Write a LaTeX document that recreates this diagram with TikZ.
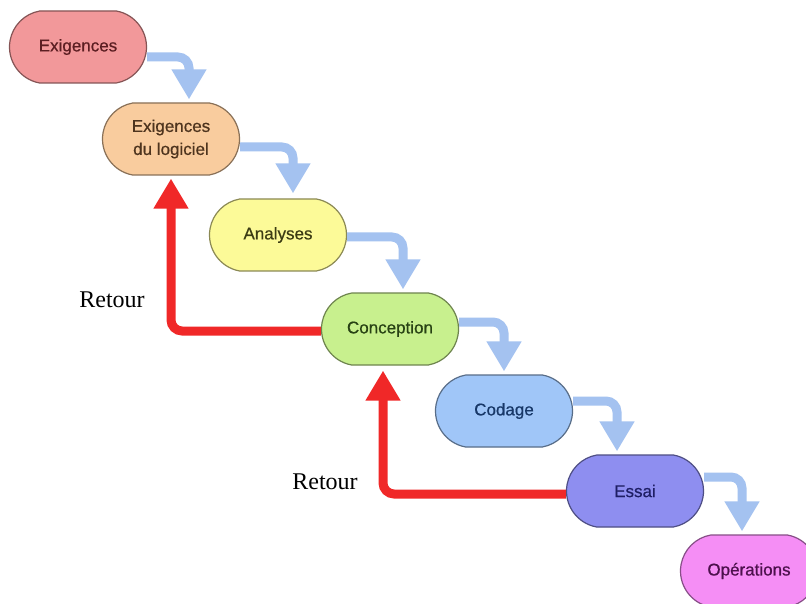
\documentclass[tikz,border=0pt]{standalone}
\usepackage{fontspec}
\setmainfont{Liberation Sans}
\newfontfamily\stagefont[FakeBold=0.6]{Liberation Sans}
\newfontfamily\retourfont{Liberation Serif}
\usetikzlibrary{arrows.meta,shapes.misc}

% stage fills, borders and text colours
\definecolor{cExig}{RGB}{242,152,154}
\definecolor{tExig}{RGB}{92,30,34}
\definecolor{cLog}{RGB}{249,204,158}
\definecolor{tLog}{RGB}{78,52,30}
\definecolor{cAna}{RGB}{252,250,152}
\definecolor{tAna}{RGB}{60,60,20}
\definecolor{cCon}{RGB}{200,240,142}
\definecolor{tCon}{RGB}{40,66,20}
\definecolor{cCod}{RGB}{160,198,248}
\definecolor{tCod}{RGB}{24,56,104}
\definecolor{cEss}{RGB}{142,142,240}
\definecolor{tEss}{RGB}{30,30,100}
\definecolor{cOpe}{RGB}{245,142,245}
\definecolor{tOpe}{RGB}{76,16,76}
\definecolor{flowblue}{RGB}{164,194,240}
\definecolor{backred}{RGB}{240,40,40}

\tikzset{
  stage/.style={rounded rectangle, rounded rectangle arc length=160,
    draw=#1!55!black, fill=#1, line width=1.2pt,
    minimum width=137pt, minimum height=72pt,
    align=center, font=\stagefont\fontsize{17}{23}\selectfont, inner sep=0pt},
  flow/.style={draw=flowblue, line width=9pt, rounded corners=11pt,
    -{Triangle[width=33pt,length=30pt]}},
  back/.style={draw=backred, line width=9pt, rounded corners=11pt,
    -{Triangle[width=33pt,length=30pt]}},
  retour/.style={font=\retourfont\fontsize{24}{28}\selectfont, inner sep=0pt}
}

\begin{document}
\begin{tikzpicture}[x=1pt,y=-1pt]
  \clip (0,0) rectangle (806,604);
  \fill[white] (0,0) rectangle (806,604);

  % stages of the cascade
  \node[stage=cExig, text=tExig] (exig) at (78,47) {Exigences};
  \node[stage=cLog,  text=tLog]  (log)  at (171,139) {Exigences\\du logiciel};
  \node[stage=cAna,  text=tAna]  (ana)  at (278,235) {Analyses};
  \node[stage=cCon,  text=tCon]  (con)  at (390,329) {Conception};
  \node[stage=cCod,  text=tCod]  (cod)  at (504,411) {Codage};
  \node[stage=cEss,  text=tEss]  (ess)  at (635,491) {Essai};
  \node[stage=cOpe,  text=tOpe]  (ope)  at (749,571) {Opérations};

  % forward flow from one stage to the next
  \draw[flow] ([yshift=-10pt]exig.east) -| ([xshift=18pt,yshift=3pt]log.north);
  \draw[flow] ([yshift=-8pt]log.east)   -| ([xshift=15pt,yshift=5pt]ana.north);
  \draw[flow] ([yshift=-2pt]ana.east)   -| ([xshift=13pt,yshift=3pt]con.north);
  \draw[flow] ([yshift=7pt]con.east)    -| ([xshift=0pt,yshift=3pt]cod.north);
  \draw[flow] ([yshift=10pt]cod.east)   -| ([xshift=-18pt,yshift=3pt]ess.north);
  \draw[flow] ([yshift=14pt]ess.east)   -| ([xshift=-7pt,yshift=3pt]ope.north);

  % feedback loops
  \draw[back] ([yshift=-2pt]con.west) -| ([yshift=-3pt]log.south);
  \draw[back] ([yshift=-3pt]ess.west) -| ([xshift=-7pt,yshift=-5pt]con.south);

  \node[retour] (r1) at (112,300) {Retour};
  \node[retour] (r2) at (325,482) {Retour};
\end{tikzpicture}
\end{document}
